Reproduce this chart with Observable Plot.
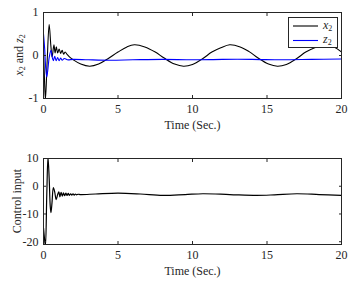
<!DOCTYPE html>
<html><head><meta charset="utf-8">
<script src="https://cdn.jsdelivr.net/npm/d3@7"></script>
<script src="https://cdn.jsdelivr.net/npm/@observablehq/plot@0.6"></script>
<style>
body{margin:0;background:white;}
#wrap{position:relative;width:363px;height:281px;font-family:"Liberation Serif",serif;color:#262626;}
.ylab{position:absolute;transform:translate(-50%,-50%) rotate(-90deg);white-space:nowrap;font-size:12px;}
sub{font-size:8px;vertical-align:-2px;line-height:0;}
#legend{position:absolute;left:288px;top:17px;width:50px;height:31px;border:1px solid #262626;background:white;box-sizing:border-box;font-size:12px;}
</style></head>
<body><div id="wrap"></div>
<script>
// ---- data ----
const timeTicks = [0, 5, 10, 15, 20];
const topYTicks = [-1, 0, 1];
const botYTicks = [-20, -10, 0, 10];

const x2Time = [0, 0.07, 0.13, 0.25, 0.38, 0.5, 0.58, 0.7, 0.78, 0.86, 0.95, 1.05, 1.15, 1.25, 1.35, 1.45, 1.6, 1.8, 2.0, 2.5, 3.1, 3.7, 4.3, 5.0, 5.6, 6.1, 6.8, 7.5, 8.1, 8.8, 9.4, 10.0, 10.7, 11.3, 11.9, 12.5, 13.2, 13.8, 14.4, 15.1, 15.7, 16.3, 17.0, 17.6, 18.2, 18.8, 19.5, 20];
const x2Vals = [0.2, -0.6, -1.02, -0.1, 0.72, 0.2, -0.03, 0.25, 0.06, 0.2, 0.06, 0.15, 0.05, 0.12, 0.03, 0.08, 0.02, -0.05, -0.1, -0.2, -0.25, -0.2, -0.08, 0.08, 0.2, 0.25, 0.2, 0.08, -0.06, -0.2, -0.25, -0.21, -0.07, 0.08, 0.18, 0.25, 0.2, 0.09, -0.06, -0.2, -0.25, -0.21, -0.07, 0.08, 0.18, 0.25, 0.2, 0.08];

const z2Time = [0, 0.08, 0.15, 0.22, 0.3, 0.38, 0.5, 0.58, 0.66, 0.75, 0.85, 0.95, 1.05, 1.15, 1.25, 1.4, 1.6, 2.0, 3.0, 4.5, 6.0, 8.0, 10.0, 12.0, 14.0, 16.0, 18.0, 20.0];
const z2Vals = [0.5, 0.15, -0.3, -0.5, -0.3, -0.05, 0.12, -0.03, -0.12, -0.02, -0.12, -0.05, -0.12, -0.06, -0.11, -0.07, -0.1, -0.09, -0.1, -0.11, -0.1, -0.09, -0.1, -0.09, -0.09, -0.1, -0.09, -0.08];

const uTime = [0, 0.07, 0.13, 0.22, 0.3, 0.38, 0.45, 0.5, 0.57, 0.66, 0.75, 0.85, 0.95, 1.03, 1.1, 1.18, 1.26, 1.34, 1.42, 1.5, 1.58, 1.66, 1.74, 1.82, 1.9, 1.98, 2.06, 2.14, 2.22, 2.3, 2.5, 3.5, 5.0, 6.5, 8.0, 9.5, 10.7, 12.5, 14.3, 15.5, 17.0, 18.5, 20.0];
const uVals = [-15, -19, -21.5, -3, 10.5, 3, -7, -9.5, -6, -0.5, -2, -4.8, -3, -2, -3.8, -2.2, -3.6, -2.4, -3.4, -2.5, -3.3, -2.6, -3.3, -2.7, -3.2, -2.7, -3.2, -2.8, -3.1, -2.9, -3, -2.8, -2.5, -2.8, -3.3, -3, -2.7, -3, -3.3, -3.1, -2.7, -3, -3.3];

const x2Data = x2Time.map((t, i) => ({t, v: x2Vals[i]}));
const z2Data = z2Time.map((t, i) => ({t, v: z2Vals[i]}));
const uData = uTime.map((t, i) => ({t, v: uVals[i]}));

const fmt = d => String(d);
const axisCol = "#262626";

function panel(opts) {
  return Plot.plot({
    width: 363, height: opts.height,
    marginLeft: 43, marginRight: 22, marginTop: opts.mt, marginBottom: opts.mb,
    style: {fontFamily: "Liberation Serif", fontSize: "12px", color: axisCol, background: "white", overflow: "visible"},
    x: {domain: [0, 20]},
    y: {domain: opts.ydom},
    marks: [
      ...opts.lines,
      Plot.frame({stroke: axisCol, strokeWidth: 1}),
      Plot.axisX(timeTicks, {anchor: "bottom", tickSize: 0, tickPadding: 6, tickFormat: fmt, label: "Time (Sec.)", labelAnchor: "center", labelArrow: "none", labelOffset: 30, fill: axisCol}),
      Plot.axisX(timeTicks, {anchor: "bottom", tickSize: -3, fill: "none", label: null}),
      Plot.axisX(timeTicks, {anchor: "top", tickSize: -3, fill: "none", label: null}),
      Plot.axisY(opts.yticks, {anchor: "left", tickSize: 0, tickPadding: 5, tickFormat: fmt, label: null, fill: axisCol}),
      Plot.axisY(opts.yticks, {anchor: "left", tickSize: -3, fill: "none", label: null}),
      Plot.axisY(opts.yticks, {anchor: "right", tickSize: -3, fill: "none", label: null})
    ]
  });
}

const topPanel = panel({
  height: 130, mt: 12, mb: 32, ydom: [-1, 1], yticks: topYTicks,
  lines: [
    Plot.line(x2Data, {x: "t", y: "v", stroke: "black", strokeWidth: 1.1, curve: "catmull-rom", clip: true}),
    Plot.line(z2Data, {x: "t", y: "v", stroke: "#0000ff", strokeWidth: 1.1, curve: "catmull-rom", clip: true})
  ]
});
const botPanel = panel({
  height: 141, mt: 18, mb: 37, ydom: [-21, 10], yticks: botYTicks,
  lines: [
    Plot.line(uData, {x: "t", y: "v", stroke: "black", strokeWidth: 1.2, curve: "catmull-rom", clip: true})
  ]
});

const wrap = document.getElementById("wrap");
topPanel.style.position = "absolute"; topPanel.style.left = "0px"; topPanel.style.top = "0px";
botPanel.style.position = "absolute"; botPanel.style.left = "0px"; botPanel.style.top = "140px";
wrap.appendChild(topPanel);
wrap.appendChild(botPanel);

const yl1 = document.createElement("div");
yl1.className = "ylab";
yl1.style.left = "19px"; yl1.style.top = "55px";
yl1.innerHTML = "<i>x</i><sub>2</sub> and <i>z</i><sub>2</sub>";
wrap.appendChild(yl1);

const yl2 = document.createElement("div");
yl2.className = "ylab";
yl2.style.left = "17px"; yl2.style.top = "201px";
yl2.textContent = "Control input";
wrap.appendChild(yl2);

const leg = document.createElement("div");
leg.id = "legend";
leg.innerHTML =
  '<svg width="48" height="29" style="position:absolute;left:0;top:0;overflow:visible">' +
  '<line x1="4" x2="29" y1="8" y2="8" stroke="black" stroke-width="1.1"/>' +
  '<line x1="4" x2="29" y1="22.5" y2="22.5" stroke="#0000ff" stroke-width="1.1"/></svg>' +
  '<div style="position:absolute;left:34px;top:0px;"><i>x</i><sub>2</sub></div>' +
  '<div style="position:absolute;left:34px;top:14px;"><i>z</i><sub>2</sub></div>';
wrap.appendChild(leg);
</script></body></html>
